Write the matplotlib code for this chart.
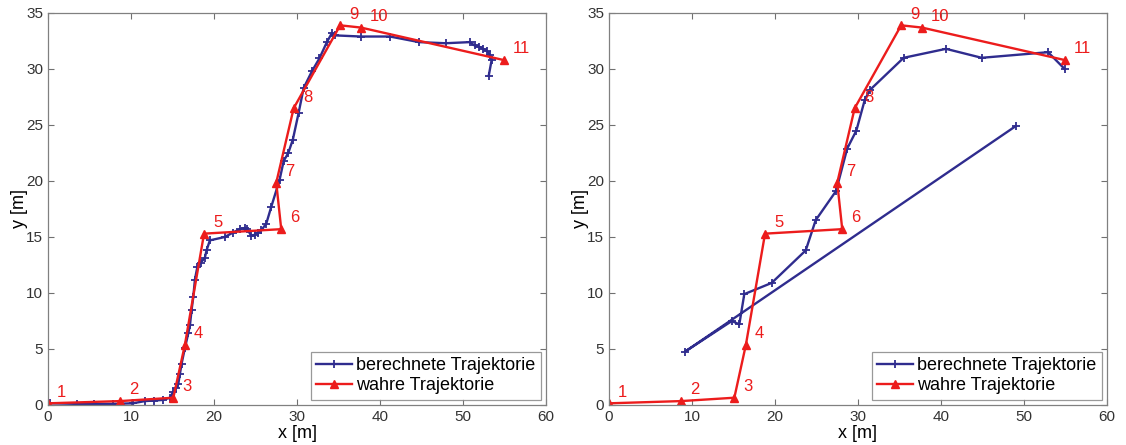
import numpy as np
import matplotlib
matplotlib.use('Agg')
import matplotlib.pyplot as plt

plt.rcParams['font.family'] = ['Liberation Sans', 'DejaVu Sans']

# wahre Trajektorie (beide Plots gleich)
true_x = [0.0, 8.7, 15.1, 16.5, 18.8, 28.1, 27.5, 29.6, 35.2, 37.7, 54.9]
true_y = [0.15, 0.35, 0.65, 5.4, 15.3, 15.7, 19.85, 26.5, 33.9, 33.7, 30.8]
point_labels = ['1', '2', '3', '4', '5', '6', '7', '8', '9', '10', '11']

# berechnete Trajektorie, links
calc1_x = [0.2, 3.5, 5.6, 7.8, 10.2, 11.7, 12.8, 13.8, 14.7, 15.1, 15.4, 15.7,
           15.9, 16.1, 16.5, 16.9, 17.1, 17.3, 17.5, 17.7, 18.0, 18.4, 18.9,
           19.1, 19.5, 21.3, 22.3, 23.1, 23.7, 24.0, 24.5, 24.9, 25.3, 25.7,
           26.3, 26.9, 27.9, 28.4, 28.95, 29.5, 30.2, 30.8, 31.8, 32.7, 33.6,
           34.2, 34.6, 37.7, 41.2, 44.7, 47.9, 50.8, 51.4, 51.9, 52.4, 52.9,
           53.25, 53.45, 53.1]
calc1_y = [0.15, 0.1, 0.1, 0.1, 0.15, 0.35, 0.4, 0.45, 0.65, 1.2, 1.5, 1.9,
           2.8, 3.7, 5.1, 6.4, 7.1, 8.5, 9.6, 11.2, 12.35, 12.7, 13.15,
           13.8, 14.7, 15.0, 15.4, 15.7, 15.8, 15.7, 15.1, 15.2, 15.4, 15.6,
           16.2, 17.7, 20.1, 21.8, 22.5, 23.7, 26.1, 28.3, 29.8, 30.95, 32.4,
           33.2, 33.0, 32.9, 32.9, 32.4, 32.3, 32.4, 32.1, 32.0, 31.8, 31.6,
           31.25, 30.8, 29.4]

# berechnete Trajektorie, rechts
calc2_x = [49.0, 9.15, 14.8, 15.7, 16.3, 19.6, 23.7, 24.9, 27.35, 28.7, 29.8,
           30.8, 31.4, 35.5, 40.6, 44.9, 52.9, 54.9]
calc2_y = [24.9, 4.76, 7.5, 7.2, 9.9, 10.9, 13.8, 16.5, 19.1, 22.9, 24.5,
           27.2, 28.1, 31.0, 31.8, 31.0, 31.5, 30.0]

blue = '#2f2c8e'
red = '#ec1c1c'

fig = plt.figure(figsize=(11.26, 4.45), dpi=100)
ax1 = fig.add_axes([48/1126, 40/445, 498/1126, 392/445])
ax2 = fig.add_axes([609/1126, 40/445, 498/1126, 392/445])

for ax, cx, cy in [(ax1, calc1_x, calc1_y), (ax2, calc2_x, calc2_y)]:
    ax.plot(cx, cy, color=blue, marker='+', markersize=6, mew=1.3, lw=1.7,
            label='berechnete Trajektorie')
    ax.plot(true_x, true_y, color=red, marker='^', markersize=6, lw=1.7,
            label='wahre Trajektorie')
    for x, y, t in zip(true_x, true_y, point_labels):
        ax.text(x + 1.1, y + 1.0, t, color=red, fontsize=12,
                ha='left', va='center')
    ax.set_xlim(0, 60)
    ax.set_ylim(0, 35)
    ax.set_xticks(np.arange(0, 61, 10))
    ax.set_yticks(np.arange(0, 36, 5))
    ax.tick_params(direction='in', top=True, right=True, length=4,
                   color='#707070', labelcolor='#333333', labelsize=11)
    for s in ax.spines.values():
        s.set_color('#808080')
        s.set_linewidth(0.9)
    ax.set_xlabel('x [m]', fontsize=13, labelpad=1)
    ax.set_ylabel('y [m]', fontsize=13, labelpad=-1)
    leg = ax.legend(loc='lower right', numpoints=1, fancybox=False,
                    fontsize=13, handlelength=2.0, handletextpad=0.2,
                    borderpad=0.3, labelspacing=0.15, borderaxespad=0.3)
    leg.get_frame().set_edgecolor('#808080')
    leg.get_frame().set_linewidth(0.9)

plt.savefig('out.png', dpi=100)
